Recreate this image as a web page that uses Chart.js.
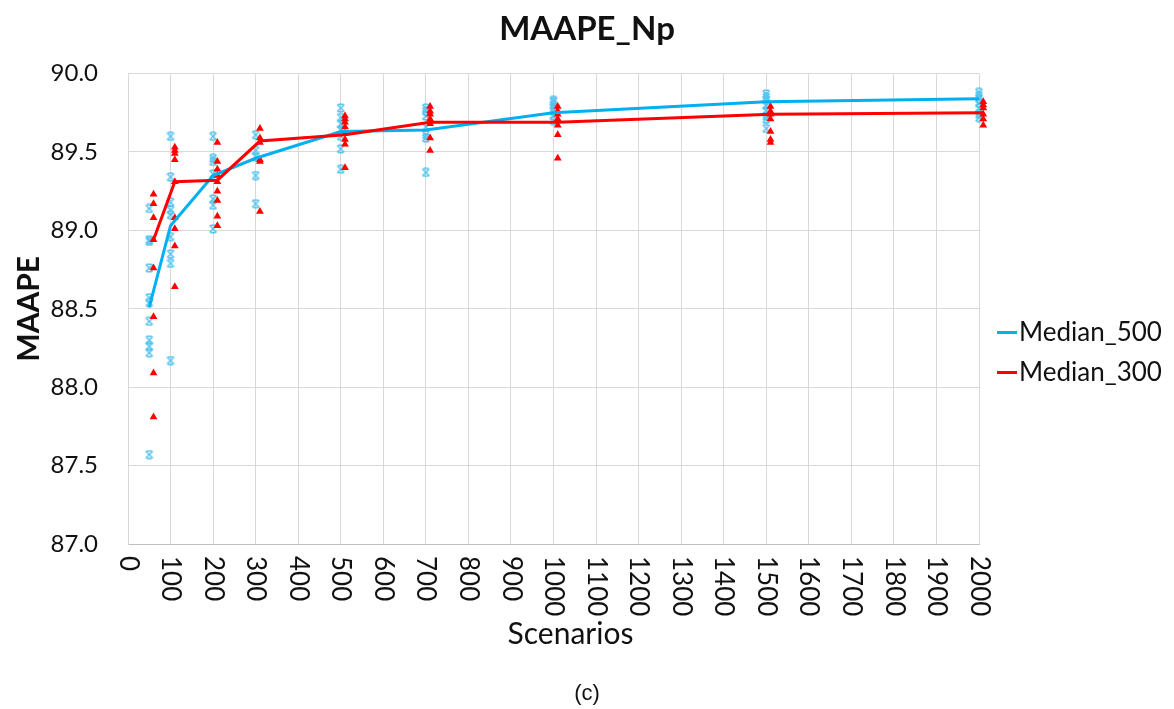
<!DOCTYPE html>
<html>
<head>
<meta charset="utf-8">
<title>MAAPE_Np</title>
<script src="https://cdn.jsdelivr.net/npm/chart.js@4.4.1/dist/chart.umd.min.js"></script>
<style>
  html, body { margin: 0; padding: 0; background: #fff; }
  #wrap { width: 1174px; height: 709px; }
</style>
</head>
<body>
<div id="wrap"><canvas id="maape-chart" width="1174" height="709"></canvas></div>
<script>
// number of scenarios each group was run with
var scenarios = [50, 100, 200, 300, 500, 700, 1000, 1500, 2000];

// medians per scenario count
var median500 = [88.51, 89.03, 89.35, 89.46, 89.63, 89.64, 89.75, 89.82, 89.84];
var median300 = [88.94, 89.31, 89.32, 89.57, 89.61, 89.69, 89.69, 89.74, 89.75];

// individual runs, one list per scenario count
var runs500 = [
  [89.14, 88.94, 88.93, 88.76, 88.57, 88.54, 88.42, 88.30, 88.26, 88.22, 87.57],
  [89.60, 89.34, 89.18, 89.13, 89.10, 88.96, 88.85, 88.79, 88.17],
  [89.60, 89.46, 89.44, 89.36, 89.20, 89.16, 89.01],
  [89.61, 89.51, 89.47, 89.35, 89.17],
  [89.78, 89.72, 89.68, 89.64, 89.60, 89.52, 89.39],
  [89.78, 89.76, 89.73, 89.66, 89.61, 89.59, 89.37],
  [89.83, 89.82, 89.80, 89.78, 89.76, 89.73, 89.70],
  [89.87, 89.85, 89.83, 89.80, 89.76, 89.73, 89.71, 89.65],
  [89.88, 89.86, 89.84, 89.81, 89.78, 89.74, 89.72]
];
var runs300 = [
  [89.23, 89.17, 89.08, 88.94, 88.76, 88.45, 88.09, 87.81],
  [89.53, 89.51, 89.49, 89.45, 89.31, 89.08, 89.01, 88.90, 88.64],
  [89.56, 89.44, 89.39, 89.35, 89.31, 89.25, 89.19, 89.09, 89.03],
  [89.65, 89.59, 89.56, 89.45, 89.44, 89.12],
  [89.73, 89.71, 89.69, 89.66, 89.62, 89.58, 89.55, 89.40],
  [89.79, 89.76, 89.74, 89.71, 89.68, 89.59, 89.51],
  [89.79, 89.76, 89.74, 89.71, 89.67, 89.61, 89.46],
  [89.79, 89.76, 89.74, 89.71, 89.63, 89.58, 89.56],
  [89.82, 89.80, 89.78, 89.74, 89.71, 89.67]
];

// the 300 group is nudged right so both groups stay visible
var shift300 = 10;

var BLUE = '#00b0f0';
var BLUE_MARK = '#52c3ee';
var RED = '#ff0000';
var TEXT = '#111';

// listed from the largest count down: unsorted data keeps chart.js
// from dropping the nudged points that sit past the axis end
function runPoints(runs, shift) {
  var pts = [];
  for (var i = runs.length - 1; i >= 0; i--) {
    runs[i].forEach(function (v) { pts.push({ x: scenarios[i] + shift, y: v }); });
  }
  return pts;
}

function medianPoints(vals, shift) {
  return vals.map(function (v, i) { return { x: scenarios[i] + shift, y: v }; });
}

// x with caps top and bottom
function starMark(color) {
  var c = document.createElement('canvas');
  c.width = 10; c.height = 10;
  var g = c.getContext('2d');
  g.strokeStyle = color;
  g.lineWidth = 1.5;
  g.beginPath();
  g.moveTo(1.5, 1.5); g.lineTo(8.5, 8.5);
  g.moveTo(8.5, 1.5); g.lineTo(1.5, 8.5);
  g.moveTo(2.5, 1.2); g.lineTo(7.5, 1.2);
  g.moveTo(2.5, 8.8); g.lineTo(7.5, 8.8);
  g.stroke();
  return c;
}

// rotated x tick labels, x title and the line legend
var extras = {
  id: 'extras',
  afterDraw: function (chart) {
    var ctx = chart.ctx, xs = chart.scales.x, area = chart.chartArea;
    ctx.save();
    ctx.fillStyle = TEXT;
    ctx.font = '26px Lato';
    ctx.textAlign = 'left';
    ctx.textBaseline = 'middle';
    xs.ticks.forEach(function (t) {
      ctx.save();
      ctx.translate(xs.getPixelForValue(t.value), area.bottom + 12);
      ctx.rotate(Math.PI / 2);
      ctx.fillText(String(t.value), 0, 0);
      ctx.restore();
    });

    ctx.font = '30px Lato';
    ctx.textAlign = 'center';
    ctx.fillText('Scenarios', (area.left + area.right) / 2 + 17, area.bottom + 90);

    ctx.font = '26px Lato';
    ctx.textAlign = 'left';
    var lines = chart.data.datasets.filter(function (d) { return d.showLine; })
      .sort(function (a, b) { return b.order - a.order; });
    lines.forEach(function (d, i) {
      var y = chart.height / 2 - 22 + i * 40;
      ctx.strokeStyle = d.borderColor;
      ctx.lineWidth = 3;
      ctx.beginPath();
      ctx.moveTo(area.right + 18, y);
      ctx.lineTo(area.right + 38, y);
      ctx.stroke();
      ctx.fillText(d.label, area.right + 40, y);
    });
    ctx.restore();
  }
};

new Chart(document.getElementById('maape-chart'), {
  type: 'scatter',
  data: {
    datasets: [{
      label: 'Median_300',
      data: medianPoints(median300, shift300),
      showLine: true,
      borderColor: RED,
      borderWidth: 3,
      pointRadius: 0,
      clip: false,
      order: 0
    }, {
      label: 'Median_500',
      data: medianPoints(median500, 0),
      showLine: true,
      borderColor: BLUE,
      borderWidth: 3,
      pointRadius: 0,
      order: 1
    }, {
      label: 'runs_300',
      data: runPoints(runs300, shift300),
      pointStyle: 'triangle',
      pointRadius: 4.5,
      backgroundColor: RED,
      borderColor: RED,
      borderWidth: 0,
      clip: false,
      order: 2
    }, {
      label: 'runs_500',
      data: runPoints(runs500, 0),
      pointStyle: starMark(BLUE_MARK),
      pointRadius: 5,
      clip: false,
      order: 3
    }]
  },
  options: {
    responsive: false,
    animation: false,
    layout: { padding: 0 },
    plugins: {
      legend: { display: false },
      tooltip: { enabled: false },
      title: {
        display: true,
        text: 'MAAPE_Np',
        color: TEXT,
        font: { family: 'Lato', size: 33, weight: 'bold' },
        padding: { top: 10, bottom: 24 }
      },
      subtitle: {
        display: true,
        position: 'bottom',
        text: '(c)',
        color: TEXT,
        font: { family: 'Liberation Sans', size: 22 },
        padding: { top: 4, bottom: 2 }
      }
    },
    scales: {
      x: {
        type: 'linear',
        min: 0,
        max: 2000,
        ticks: { display: false, stepSize: 100 },
        grid: { color: '#d9d9d9', drawTicks: false },
        border: { color: '#bfbfbf' },
        afterFit: function (scale) { scale.height = 132.6; }
      },
      y: {
        min: 87,
        max: 90,
        ticks: {
          stepSize: 0.5,
          padding: 30,
          color: TEXT,
          font: { family: 'Lato', size: 24 },
          callback: function (v) { return v.toFixed(1); }
        },
        grid: { color: '#d9d9d9', drawTicks: false },
        border: { color: '#d9d9d9' },
        title: {
          display: true,
          text: 'MAAPE',
          color: TEXT,
          font: { family: 'Lato', size: 30, weight: 'bold' },
          padding: { top: 11, bottom: 0 }
        },
        afterFit: function (scale) { scale.width = 128; }
      },
      // empty box on the right that holds the legend
      legendBox: {
        position: 'right',
        ticks: { display: false },
        grid: { display: false, drawTicks: false },
        border: { display: false },
        afterFit: function (scale) { scale.width = 195; }
      }
    }
  },
  plugins: [extras]
});
</script>
</body>
</html>
